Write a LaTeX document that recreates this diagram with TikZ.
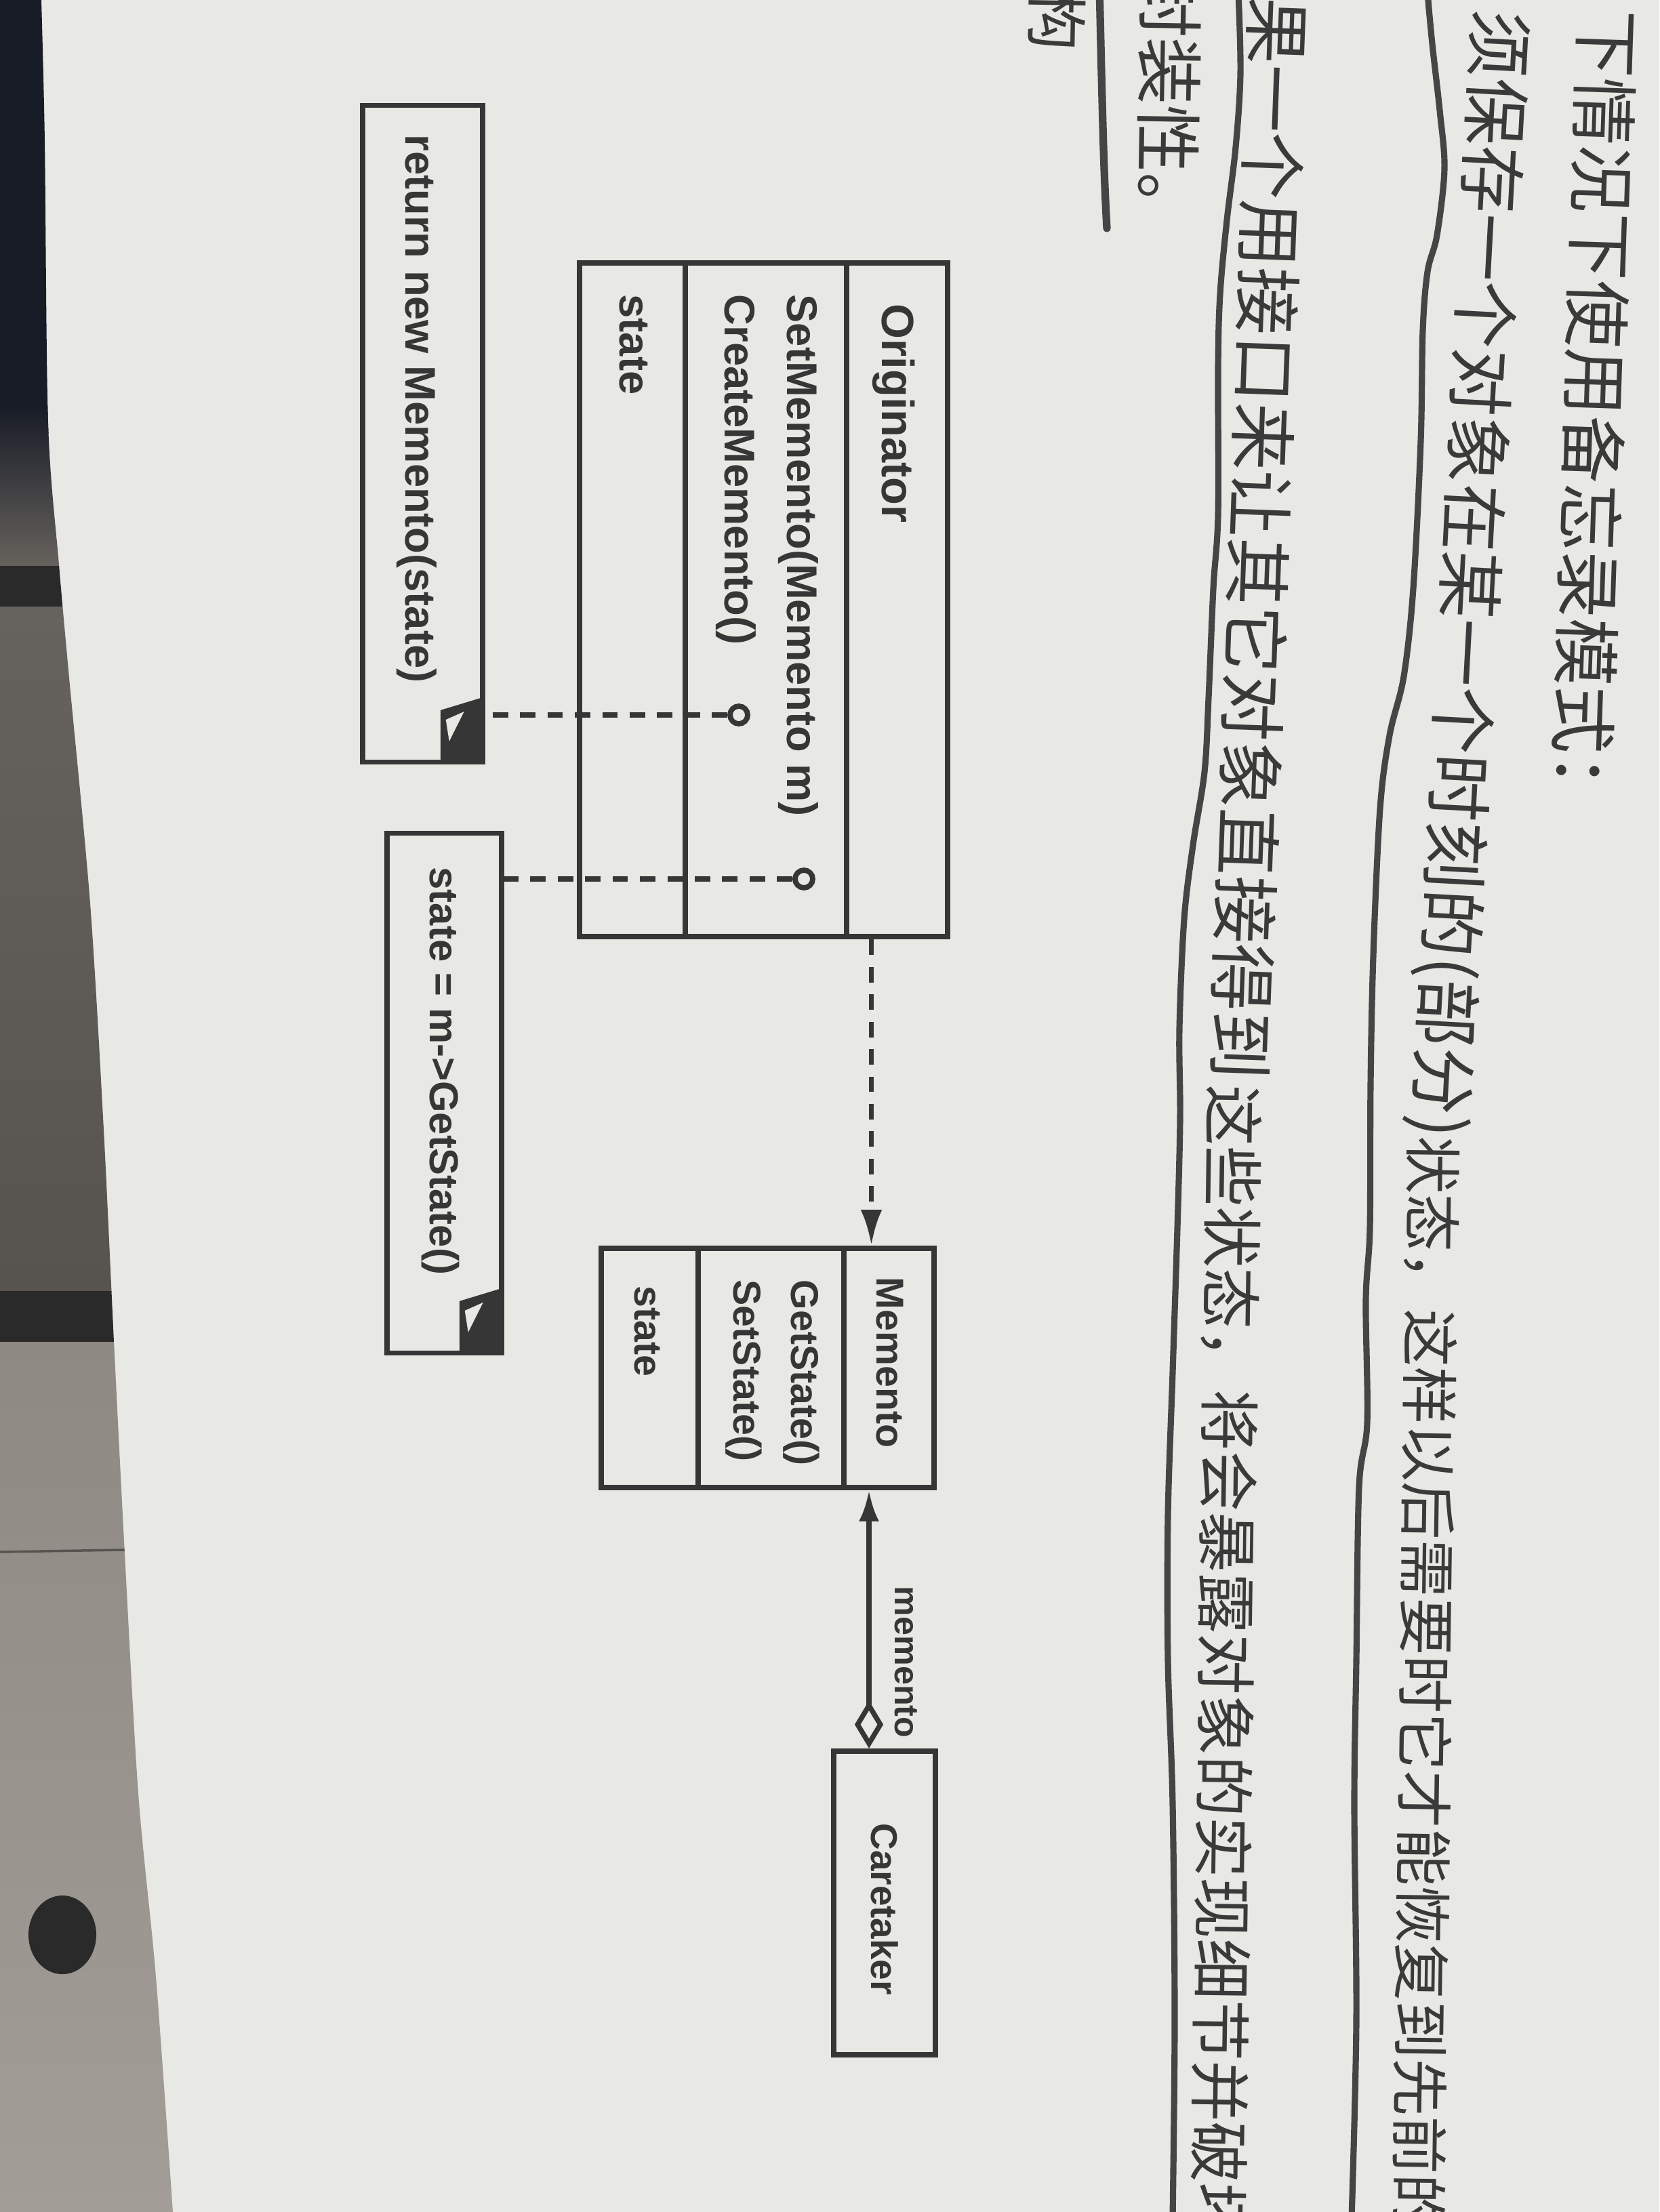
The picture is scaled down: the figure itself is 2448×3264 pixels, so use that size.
\documentclass[tikz,border=0pt]{standalone}
\usepackage{fontspec}
\setmainfont{Liberation Sans}
\newfontfamily\cjk{Noto Sans CJK SC}
\usetikzlibrary{arrows.meta,calc}

\definecolor{paper}{HTML}{E8E8E4}
\definecolor{ink}{HTML}{363636}
\definecolor{chn}{HTML}{3A3A3A}
\definecolor{penink}{HTML}{454545}
\definecolor{deskdark}{HTML}{181C26}
\definecolor{deskmid}{HTML}{66625D}
\definecolor{desklow}{HTML}{575450}
\definecolor{deskband}{HTML}{2A2A2A}
\definecolor{desklight}{HTML}{8E8983}
\definecolor{deskpale}{HTML}{A29D96}

\begin{document}
\begin{tikzpicture}[x=0.01cm, y=-0.01cm,
  every node/.style={text=ink},
  box/.style={draw=ink, line width=2.3pt, inner sep=0pt, rectangle},
  notebox/.style={draw=ink, line width=2.1pt, inner sep=0pt, rectangle},
  vtxt/.style={rotate=-90, anchor=west, inner sep=0pt},
  hz/.style={anchor=west, inner sep=0pt, text=chn},
  lolly/.style={draw=ink, line width=2.2pt, circle, minimum size=0.26cm, inner sep=0pt},
  depline/.style={draw=ink, line width=2.2pt, dash pattern=on 6.5pt off 5pt},
  assoc/.style={draw=ink, line width=2.1pt},
  penline/.style={draw=penink, line width=2.6pt, line cap=round, line join=round}
]
\useasboundingbox (0,0) rectangle (2448,3264);
\clip (0,0) rectangle (2448,3264);

% paper
\fill[paper] (0,0) rectangle (2448,3264);

% desk seen beside the page
\begin{scope}
  \clip (0,0) -- plot[smooth] coordinates {(61,0) (66,208) (71,625) (87,833) (102,1000) (133,1333) (153,1667) (168,1979) (184,2292) (204,2646) (230,2917) (255,3264)} -- (0,3264) -- cycle;
  \fill[deskdark] (0,0) rectangle (300,640);
  \shade[top color=deskdark, bottom color=deskmid] (0,600) rectangle (300,835);
  \fill[deskband] (0,835) rectangle (300,895);
  \shade[top color=deskmid, bottom color=desklow] (0,895) rectangle (300,1905);
  \fill[deskband] (0,1905) rectangle (300,1980);
  \shade[top color=desklight, bottom color=deskpale] (0,1980) rectangle (300,3264);
  \draw[desklow, line width=1pt] (0,2290) -- (300,2285);
  \fill[deskband] (92,2855) ellipse (0.5cm and 0.58cm);
\end{scope}

% printed text
\node[hz, rotate=-91.9, font=\cjk\fontsize{28.4}{28.4}\selectfont] (colA) at (2372,14) {下情况下使用备忘录模式：};
\node[hz, rotate=-93.1, font=\cjk\fontsize{28.4}{28.4}\selectfont] (colB1) at (2210,15) {须保存一个对象在某一个时刻的(部分)};
\node[hz, rotate=-90.8, font=\cjk\fontsize{24.2}{24.2}\selectfont] (colB2) at (2114,1676) {状态，这样以后需要时它才能恢复到先前的};
\node[hz, rotate=-92.1, font=\cjk\fontsize{28.4}{28.4}\selectfont] (colC1) at (1887,-5) {果一个用接口来让其它对象直接得到};
\node[hz, rotate=-90.8, font=\cjk\fontsize{25.6}{25.6}\selectfont] (colC2) at (1820,1600) {这些状态，将会暴露对象的实现细节并破坏};
\node[hz, rotate=-91, font=\cjk\fontsize{28.4}{28.4}\selectfont] (colD) at (1728,-45) {封装性。};
\node[hz, rotate=-91, font=\cjk\fontsize{26}{26}\selectfont] (colE) at (1560,-18) {构};

% pen marks under the lines of text
\draw[penline] plot[smooth, tension=0.55] coordinates {(2106,-10) (2113,65) (2124,163) (2131,249) (2120,347) (2106,401) (2099,488) (2096,651) (2085,868) (2071,998) (2050,1085) (2036,1193) (2026,1410) (2022,1600) (2021,1812) (2015,1918) (2017,2099) (2005,2194) (2001,2449) (1998,2662) (2001,2980) (1994,3274)};
\draw[penline] plot[smooth, tension=0.55] coordinates {(1827,-10) (1830,108) (1823,217) (1810,325) (1800,434) (1797,542) (1797,759) (1790,868) (1783,1030) (1777,1139) (1760,1247) (1747,1356) (1740,1518) (1741,1650) (1737,1812) (1730,2025) (1723,2237) (1723,2449) (1730,2662) (1733,2980) (1730,3274)};
\draw[penline, line width=3.2pt] (1622,-20) .. controls (1626,150) and (1628,250) .. (1633,337);

% Originator class
\node[box, minimum width=1.56cm, minimum height=9.94cm] (origattr) at (933,885) {};
\node[box, minimum width=2.38cm, minimum height=9.94cm] (origops) at (1130,885) {};
\node[box, minimum width=1.49cm, minimum height=9.94cm] (origname) at (1323.5,885) {};
\node[vtxt, font=\bfseries\fontsize{19}{19}\selectfont] (tOrig) at (1319,448) {Originator};
\node[vtxt, font=\bfseries\fontsize{18}{18}\selectfont] (tSetM) at (1178,434) {SetMemento(Memento m)};
\node[vtxt, font=\bfseries\fontsize{18}{18}\selectfont] (tCreate) at (1086,434) {CreateMemento()};
\node[vtxt, font=\bfseries\fontsize{18}{18}\selectfont] (tOState) at (935,434) {state};

% Memento class
\node[box, minimum width=1.43cm, minimum height=3.53cm] (memattr) at (958.5,2018.5) {};
\node[box, minimum width=2.15cm, minimum height=3.53cm] (memops) at (1137.5,2018.5) {};
\node[box, minimum width=1.33cm, minimum height=3.53cm] (memname) at (1311.5,2018.5) {};
\node[vtxt, font=\bfseries\fontsize{16.3}{16.3}\selectfont] (tMem) at (1313,1884) {Memento};
\node[vtxt, font=\bfseries\fontsize{16.3}{16.3}\selectfont] (tGet) at (1182,1888) {GetState()};
\node[vtxt, font=\bfseries\fontsize{16.3}{16.3}\selectfont] (tSetS) at (1097,1888) {SetState()};
\node[vtxt, font=\bfseries\fontsize{16.3}{16.3}\selectfont] (tMState) at (955,1897) {state};

% Caretaker class
\node[box, minimum width=1.50cm, minimum height=4.48cm] (caretaker) at (1305,2808) {};
\node[vtxt, font=\bfseries\fontsize{15.6}{15.6}\selectfont] (tCare) at (1305,2690) {Caretaker};

% notes
\node[notebox, minimum width=1.77cm, minimum height=9.68cm] (note1) at (623.5,640) {};
\node[notebox, minimum width=1.69cm, minimum height=7.66cm] (note2) at (655.5,1613) {};
\node[vtxt, font=\bfseries\fontsize{18}{18}\selectfont] (tNote1) at (615,198) {return new Memento(state)};
\node[vtxt, font=\bfseries\fontsize{17}{17}\selectfont] (tNote2) at (650,1279) {state = m->GetState()};

% folded corners of the notes
\foreach \nt in {note1,note2} {
  \fill[ink] ($(\nt.south east)+(-66,-80)$) -- ($(\nt.south east)+(0,-100)$) -- (\nt.south east) -- ($(\nt.south east)+(-66,0)$) -- cycle;
  \fill[paper] ($(\nt.south east)+(-58,-66)$) -- ($(\nt.south east)+(-31,-78)$) -- ($(\nt.south east)+(-53,-34)$) -- cycle;
}

% note anchors on the operations
\node[lolly] (lolly1) at (1090,1055) {};
\node[lolly] (lolly2) at (1186,1297) {};
\draw[depline] (lolly1.west) -- (lolly1.west -| note1.east);
\draw[depline] (lolly2.west) -- (lolly2.west -| note2.east);

% Originator creates Memento
\coordinate (dtop) at ($(origname.south)+(-38,0)$);
\draw[depline, -{Latex[length=15pt,width=9pt]}] (dtop) -- (dtop |- memname.north);

% Caretaker keeps a memento
\coordinate (abot) at ($(caretaker.north)+(-23,0)$);
\draw[assoc, {Diamond[open,length=20pt,width=12pt]}-{Latex[length=13pt,width=8.5pt]}] (abot) -- (abot |- memname.south);
\node[vtxt, font=\bfseries\fontsize{14.3}{14.3}\selectfont] (tLbl) at (1337,2340) {memento};

\end{tikzpicture}
\end{document}
